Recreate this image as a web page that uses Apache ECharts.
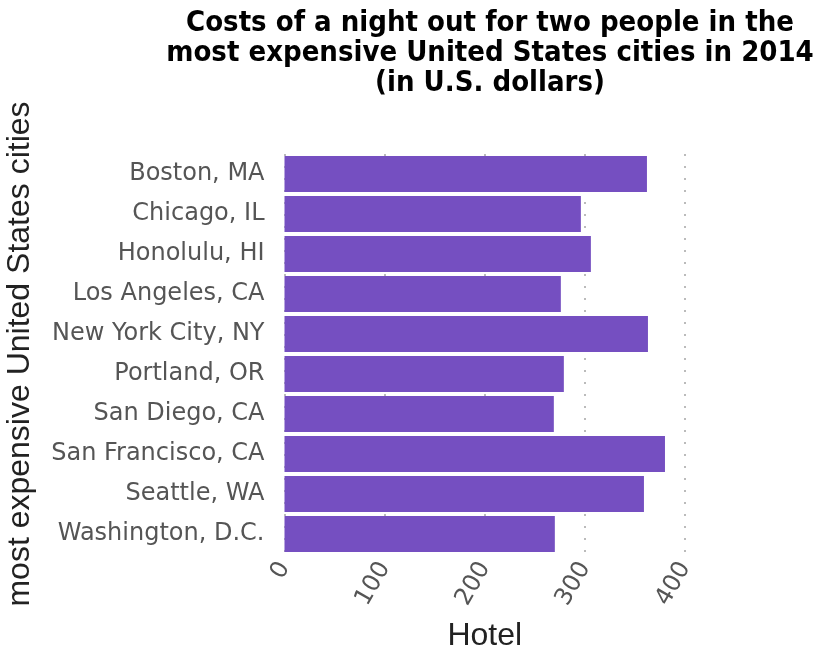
<!DOCTYPE html>
<html>
<head>
<meta charset="utf-8">
<script src="https://cdn.jsdelivr.net/npm/echarts@6/dist/echarts.min.js"></script>
<style>
  html, body { margin: 0; padding: 0; background: #fff; }
  #chart { width: 818px; height: 662px; }
</style>
</head>
<body>
<div id="chart"></div>
<script>
var cities = ['Boston, MA', 'Chicago, IL', 'Honolulu, HI', 'Los Angeles, CA', 'New York City, NY',
    'Portland, OR', 'San Diego, CA', 'San Francisco, CA', 'Seattle, WA', 'Washington, D.C.'];
var hotel = [362, 296, 306, 276, 363, 279, 269, 380, 359, 270];
var xTicks = [0, 100, 200, 300, 400];

var chart = echarts.init(document.getElementById('chart'));
var option = {
    animation: false,
    title: {
        text: 'Costs of a night out for two people in the\nmost expensive United States cities in 2014\n(in U.S. dollars)',
        left: 485,
        textAlign: 'center',
        top: 3,
        textStyle: {
            fontFamily: 'DejaVu Sans Condensed, DejaVu Sans',
            fontWeight: 'bold',
            fontSize: 29,
            lineHeight: 30,
            color: '#000'
        }
    },
    grid: {
        left: 284.5,
        right: 133,
        top: 154,
        bottom: 108
    },
    xAxis: {
        type: 'value',
        min: xTicks[0],
        max: xTicks[xTicks.length - 1],
        interval: 100,
        name: 'Hotel',
        nameLocation: 'middle',
        nameGap: 66,
        nameTextStyle: { fontFamily: 'Liberation Sans', fontSize: 32, color: '#222' },
        axisLine: { show: false },
        axisTick: { show: false },
        splitLine: { show: true, lineStyle: { color: '#bbb', type: [2, 10], width: 2 } },
        axisLabel: {
            rotate: 60,
            fontFamily: 'DejaVu Sans',
            fontSize: 24,
            color: '#555',
            margin: 10
        }
    },
    yAxis: {
        type: 'category',
        data: cities,
        inverse: true,
        name: 'most expensive United States cities',
        nameLocation: 'middle',
        nameGap: 248,
        nameTextStyle: { fontFamily: 'Liberation Sans', fontSize: 32, color: '#222' },
        axisLine: { show: false },
        axisTick: { show: false },
        axisLabel: {
            fontFamily: 'DejaVu Sans',
            fontSize: 24,
            color: '#555',
            margin: 20
        }
    },
    series: [{
        type: 'bar',
        data: hotel,
        barCategoryGap: '10%',
        itemStyle: { color: '#754fc1' }
    }]
};
chart.setOption(option);
</script>
</body>
</html>
